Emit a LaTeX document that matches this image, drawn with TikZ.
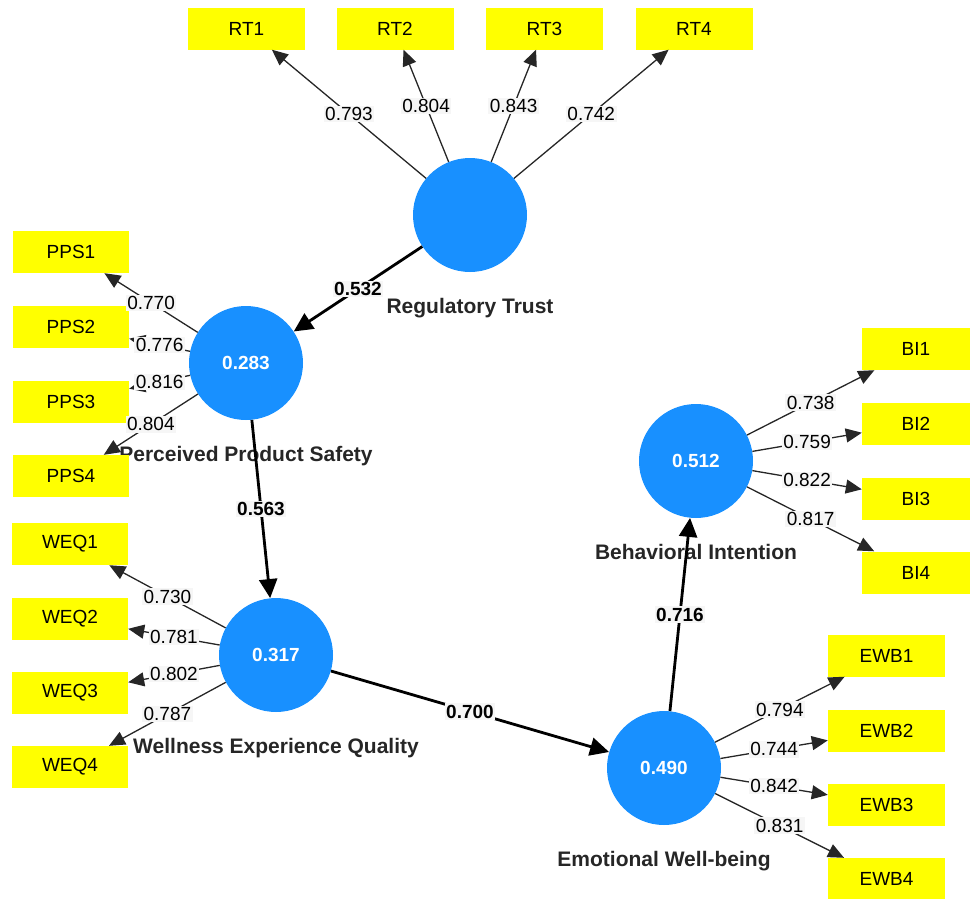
\documentclass[tikz,border=0pt]{standalone}
\usepackage{fontspec}
\setmainfont{Liberation Sans}
\usepackage{xcolor}
\usetikzlibrary{arrows.meta,positioning}

\definecolor{lvblue}{RGB}{24,144,255}
\definecolor{indyellow}{RGB}{255,255,0}
\definecolor{labgray}{RGB}{246,246,246}

\begin{document}
\begin{tikzpicture}[
  x=1pt, y=-1pt,
  latent/.style={circle, fill=lvblue, minimum size=114pt, inner sep=0pt,
                 text=white, font=\bfseries\fontsize{19}{21}\selectfont},
  lvname/.style={inner sep=0pt, text height=15pt, text depth=4pt,
                 text=black!85, font=\bfseries\fontsize{21}{23}\selectfont},
  indicator/.style={fill=indyellow, minimum width=117pt, minimum height=42pt,
                    inner sep=0pt, font=\fontsize{19}{21}\selectfont},
  loading/.style={draw=black!85, line width=1.3pt,
                  -{Triangle[length=16pt,width=14pt]}},
  structural/.style={draw=black, line width=2.8pt,
                     -{Triangle[length=19pt,width=18pt]}},
  weight/.style={fill=labgray, inner sep=1.5pt, font=\fontsize{19}{21}\selectfont},
  coef/.style={fill=labgray, inner sep=1.5pt, font=\bfseries\fontsize{19}{21}\selectfont},
]
  \useasboundingbox (0,0) rectangle (970,898);

  % latent variables
  \node[latent] (rt) at (470,215) {};
  \node[latent] (pps) at (246,363) {0.283};
  \node[latent] (weq) at (276,655) {0.317};
  \node[latent] (bi) at (696,461) {0.512};
  \node[latent] (ewb) at (664,768) {0.490};

  \node[lvname, below=26pt of rt] (rtname) {Regulatory Trust};
  \node[lvname, below=26pt of pps] (ppsname) {Perceived Product Safety};
  \node[lvname, below=26pt of weq] (weqname) {Wellness Experience Quality};
  \node[lvname, below=26pt of bi] (biname) {Behavioral Intention};
  \node[lvname, below=26pt of ewb] (ewbname) {Emotional Well-being};

  % indicators
  \node[indicator] (rt1) at (246.5,28.5) {RT1};
  \node[indicator] (rt2) at (395,28.5) {RT2};
  \node[indicator] (rt3) at (544.5,28.5) {RT3};
  \node[indicator] (rt4) at (694,28.5) {RT4};

  \node[indicator, minimum width=116pt] (pps1) at (71,252) {PPS1};
  \node[indicator, minimum width=116pt] (pps2) at (71,326.5) {PPS2};
  \node[indicator, minimum width=116pt] (pps3) at (71,401.5) {PPS3};
  \node[indicator, minimum width=116pt] (pps4) at (71,476) {PPS4};

  \node[indicator, minimum width=116pt] (weq1) at (70,544) {WEQ1};
  \node[indicator, minimum width=116pt] (weq2) at (70,618.5) {WEQ2};
  \node[indicator, minimum width=116pt] (weq3) at (70,693) {WEQ3};
  \node[indicator, minimum width=116pt] (weq4) at (70,767) {WEQ4};

  \node[indicator, minimum width=108pt] (bi1) at (916,349) {BI1};
  \node[indicator, minimum width=108pt] (bi2) at (916,423.5) {BI2};
  \node[indicator, minimum width=108pt] (bi3) at (916,498.5) {BI3};
  \node[indicator, minimum width=108pt] (bi4) at (916,572.5) {BI4};

  \node[indicator] (ewb1) at (886.5,655.5) {EWB1};
  \node[indicator] (ewb2) at (886.5,730.5) {EWB2};
  \node[indicator] (ewb3) at (886.5,804.5) {EWB3};
  \node[indicator] (ewb4) at (886.5,879) {EWB4};

  % outer loadings
  \draw[loading] (rt) -- node[weight] {0.793} (rt1);
  \draw[loading] (rt) -- node[weight] {0.804} (rt2);
  \draw[loading] (rt) -- node[weight] {0.843} (rt3);
  \draw[loading] (rt) -- node[weight] {0.742} (rt4);

  \draw[loading] (pps) -- node[weight] {0.770} (pps1);
  \draw[loading] (pps) -- node[weight] {0.776} (pps2);
  \draw[loading] (pps) -- node[weight] {0.816} (pps3);
  \draw[loading] (pps) -- node[weight] {0.804} (pps4);

  \draw[loading] (weq) -- node[weight] {0.730} (weq1);
  \draw[loading] (weq) -- node[weight] {0.781} (weq2);
  \draw[loading] (weq) -- node[weight] {0.802} (weq3);
  \draw[loading] (weq) -- node[weight] {0.787} (weq4);

  \draw[loading] (bi) -- node[weight] {0.738} (bi1);
  \draw[loading] (bi) -- node[weight] {0.759} (bi2);
  \draw[loading] (bi) -- node[weight] {0.822} (bi3);
  \draw[loading] (bi) -- node[weight] {0.817} (bi4);

  \draw[loading] (ewb) -- node[weight] {0.794} (ewb1);
  \draw[loading] (ewb) -- node[weight] {0.744} (ewb2);
  \draw[loading] (ewb) -- node[weight] {0.842} (ewb3);
  \draw[loading] (ewb) -- node[weight] {0.831} (ewb4);

  % path coefficients
  \draw[structural] (rt) -- node[coef] {0.532} (pps);
  \draw[structural] (pps) -- node[coef] {0.563} (weq);
  \draw[structural] (weq) -- node[coef] {0.700} (ewb);
  \draw[structural] (ewb) -- node[coef] {0.716} (bi);
\end{tikzpicture}
\end{document}
